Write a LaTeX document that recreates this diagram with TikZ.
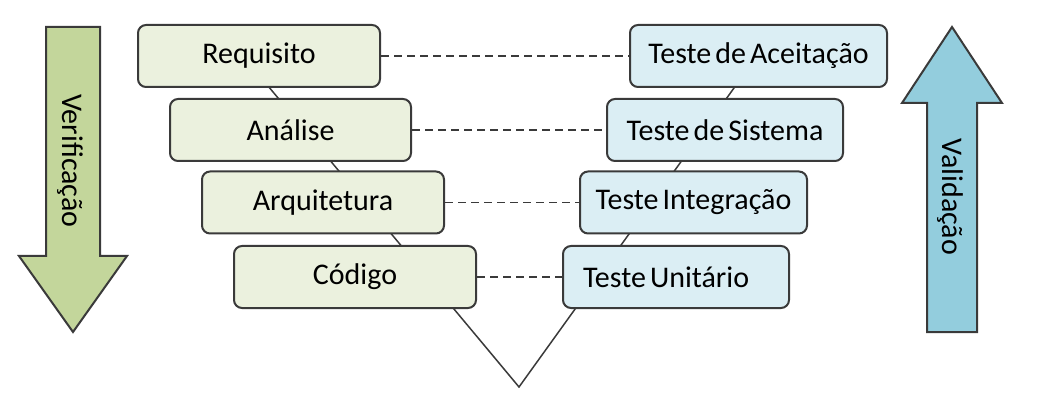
\documentclass[tikz,border=0pt]{standalone}
\usepackage{fontspec}
\setmainfont{Carlito}[WordSpace=0.6]
\usetikzlibrary{positioning,shapes}

\definecolor{boxgreen}{HTML}{EBF1DE}
\definecolor{boxblue}{HTML}{DBEEF4}
\definecolor{arrgreen}{HTML}{C3D69B}
\definecolor{arrblue}{HTML}{93CDDD}
\definecolor{edge}{HTML}{3A3A3A}

\tikzset{
  phase/.style={draw=edge, line width=2, rounded corners=8, minimum height=62, inner sep=0, font=\fontsize{30}{36}\selectfont},
  devbox/.style={phase, fill=boxgreen},
  testbox/.style={phase, fill=boxblue},
  link/.style={line width=1.5, dash pattern=on 8 off 5, color=edge},
  sidelabel/.style={rotate=-90, font=\fontsize{30}{36}\selectfont}
}

\begin{document}
\begin{tikzpicture}[x=1pt,y=-1pt]
\useasboundingbox (0,0) rectangle (1056,419);
% the V behind the boxes
\coordinate (vl) at (243,56);
\coordinate (vbot) at (519,387);
\coordinate (vr) at (757,56);
\draw[line width=1.5, color=edge](vl) -- (vbot) -- (vr);
% left: development
\node[devbox, minimum width=242] (req) at (259,56) {Requisito};
\node[devbox, minimum width=241] (ana) at (290.5,130) {Análise};
\node[devbox, minimum width=242] (arq) at (323,202.5) {Arquitetura};
\node[devbox, minimum width=242] (cod) at (355,277) {Código};
% right: tests
\node[testbox, minimum width=257] (acc) at (758.5,56) {Teste de Aceitação};
\node[testbox, minimum width=236] (sis) at (725,130) {Teste de Sistema};
\node[testbox, minimum width=227] (integ) at (693.5,202.5) {Teste Integração};
\node[testbox, text width=186, align=flush left, inner xsep=20] (uni) at (676,277) {Teste Unitário};
% dashed links
\draw[link](req) -- (acc);
\draw[link](ana) -- (sis);
\draw[link](arq) -- (integ);
\draw[link](cod) -- (uni);
% side arrows
\draw[line width=2, draw=edge, fill=arrgreen](46,27) -- (100,27) -- (100,256) -- (127,256) -- (73,332) -- (19,256) -- (46,256) -- cycle;
\node[sidelabel] (ver) at (70,161) {Verificação};
\draw[line width=2, draw=edge, fill=arrblue](927,332) -- (977,332) -- (977,103) -- (1002,103) -- (952,27) -- (902,103) -- (927,103) -- cycle;
\node[sidelabel] (val) at (950,197) {Validação};
\end{tikzpicture}
\end{document}
